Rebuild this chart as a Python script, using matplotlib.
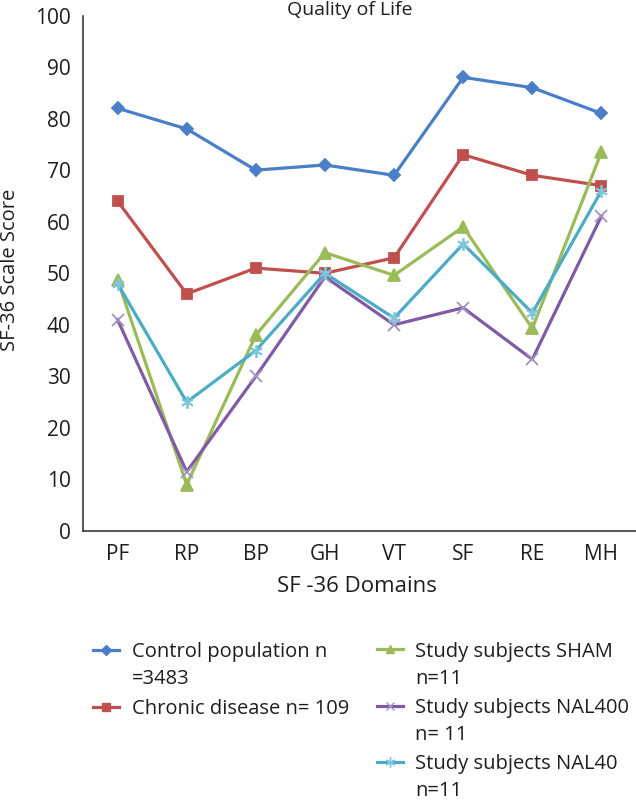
import matplotlib
matplotlib.use("Agg")
import matplotlib.pyplot as plt
from matplotlib.lines import Line2D

plt.rcParams['font.family'] = ['Open Sans', 'DejaVu Sans']

domains = ["PF", "RP", "BP", "GH", "VT", "SF", "RE", "MH"]
control = [82, 78, 70, 71, 69, 88, 86, 81]
chronic = [64, 46, 51, 50, 53, 73, 69, 67]
sham = [48.7, 9, 38, 54, 49.6, 59, 39.3, 73.5]
nal400 = [41, 11.5, 30, 49.3, 40, 43.3, 33.3, 61.1]
nal40 = [48, 25, 35, 50, 41.3, 55.7, 42.3, 66]

labels = ["Control population n\n=3483", "Chronic disease n= 109",
          "Study subjects SHAM\nn=11", "Study subjects NAL400\nn= 11",
          "Study subjects NAL40\nn=11"]
colors = ["#4A7EC6", "#C0504D", "#9BBB59", "#7F5BA6", "#4BACC6"]
mcolors = ["#4A7EC6", "#C0504D", "#9BBB59", "#A592C4", "#7FC6DA"]
markers = ["D", "s", "^", "x", (6, 2, 0)]
msizes = [6, 7, 8, 8, 9]
series = [control, chronic, sham, nal400, nal40]

W, H = 636, 800
TXT = '#1e1e1e'
fig = plt.figure(figsize=(W / 100, H / 100), dpi=100)
ax = fig.add_axes([83 / W, 1 - 531 / H, 553 / W, (531 - 15.5) / H])

x = list(range(len(domains)))
for ys, c, mc, m, ms in zip(series, colors, mcolors, markers, msizes):
    ax.plot(x, ys, color=c, lw=2.3, marker=m, ms=ms, markerfacecolor=mc,
            markeredgecolor=mc, markeredgewidth=1.3, zorder=3)

ax.set_xlim(-0.5, len(domains) - 0.5)
ax.set_ylim(0, 100)
ax.set_yticks(range(0, 101, 10))
ax.set_xticks(x)
ax.set_xticklabels(domains)
ax.tick_params(axis='both', length=0, labelsize=15, colors=TXT)
ax.tick_params(axis='y', pad=9)
ax.tick_params(axis='x', pad=9)
for s in ['top', 'right']:
    ax.spines[s].set_visible(False)
for s in ['left', 'bottom']:
    ax.spines[s].set_color('#3a3a3a')
    ax.spines[s].set_linewidth(1.2)

fig.text(350 / W, 1 - 10 / H, "Quality of Life", ha='center', va='center', fontsize=14, color=TXT)
fig.text(357 / W, 1 - 586 / H, "SF -36 Domains", ha='center', va='center', fontsize=16, color=TXT)
fig.text(10 / W, 1 - 270 / H, "SF-36 Scale Score", ha='center', va='center', rotation=90, fontsize=14.5, color=TXT)

# legend
cols = [(93, 131.5), (377, 415)]
pos = [(0, 650), (0, 707), (1, 649), (1, 706), (1, 762)]
LS = 27
for i, (ci, yy) in enumerate(pos):
    hx, tx = cols[ci]
    yf = 1 - yy / H
    fig.add_artist(Line2D([hx / W, (hx + 26) / W], [yf, yf], transform=fig.transFigure,
                          color=colors[i], lw=2.3))
    fig.add_artist(Line2D([(hx + 13) / W], [yf], transform=fig.transFigure,
                          color=mcolors[i], marker=markers[i], ms=msizes[i] * 0.8,
                          markerfacecolor=mcolors[i], markeredgecolor=mcolors[i], lw=0))
    for k, line in enumerate(labels[i].split("\n")):
        fig.text(tx / W, 1 - (yy + k * LS) / H, line, ha='left', va='center_baseline',
                 fontsize=14.5, color=TXT)

fig.savefig("out.png", dpi=100)
